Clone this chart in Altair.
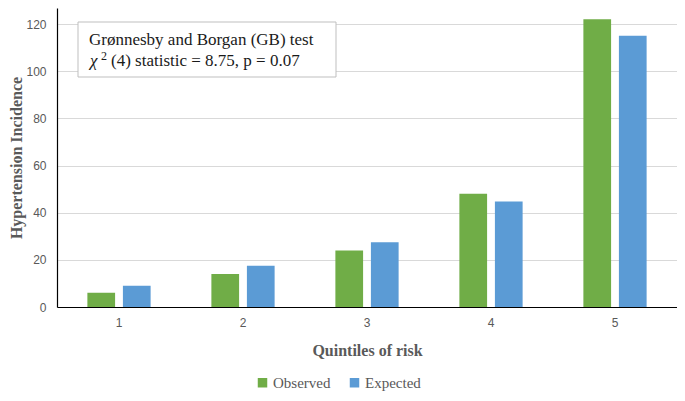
import altair as alt
import pandas as pd

quintiles = ["1", "2", "3", "4", "5"]
series = ["Observed", "Expected"]
observed = [6, 14, 24, 48, 122]
expected = [9, 17.5, 27.5, 44.7, 115]
colors = ["#70ad47", "#5b9bd5"]
y_ticks = [0, 20, 40, 60, 80, 100, 120]
box_line1 = "Grønnesby and Borgan (GB) test"
box_chi = "χ"
box_sup = "2"
box_rest = "(4) statistic = 8.75, p = 0.07"

rows = []
for q, o, e in zip(quintiles, observed, expected):
    rows.append({"q": q, "series": "Observed", "v": o})
    rows.append({"q": q, "series": "Expected", "v": e})
df = pd.DataFrame(rows)

SERIF = "Liberation Serif, Times New Roman, serif"
SANS = "Liberation Sans, Arial, sans-serif"
GRAY = "#595959"
INK = "#1a1a1a"

bars = alt.Chart(df).mark_bar().encode(
    x=alt.X("q:N", sort=quintiles,
            scale=alt.Scale(paddingInner=0.49, paddingOuter=0.245),
            axis=alt.Axis(title="Quintiles of risk", labelAngle=0, ticks=False,
                          domainColor="black", domainWidth=1.2,
                          labelFont=SANS, labelFontSize=12, labelColor=GRAY,
                          labelPadding=10, titleFont=SERIF, titleFontSize=16,
                          titleFontWeight="bold", titleColor=GRAY, titlePadding=14,
                          grid=False)),
    xOffset=alt.XOffset("series:N", sort=series,
                        scale=alt.Scale(paddingInner=0.22, paddingOuter=0)),
    y=alt.Y("v:Q", scale=alt.Scale(domain=[0, 126.8], nice=False, zero=True),
            axis=alt.Axis(values=y_ticks, title="Hypertension Incidence", ticks=False,
                          domainColor="black", domainWidth=1.2,
                          labelFont=SANS, labelFontSize=12, labelColor=GRAY,
                          labelPadding=11, titleFont=SERIF, titleFontSize=16,
                          titleFontWeight="bold", titleColor=GRAY,
                          titleX=-49, titleBaseline="top",
                          gridColor="#d9d9d9", gridWidth=1)),
    color=alt.Color("series:N", sort=series,
                    scale=alt.Scale(domain=series, range=colors),
                    legend=alt.Legend(title=None, orient="none", direction="horizontal",
                                      legendX=198, legendY=367, symbolType="square",
                                      symbolSize=90, symbolStrokeWidth=0,
                                      labelFont=SERIF, labelFontSize=15, labelColor=GRAY,
                                      columnPadding=16, labelOffset=3)),
)

one = pd.DataFrame({"a": [0]})
box = alt.Chart(one).mark_rect(fill="white", stroke="#bfbfbf", strokeWidth=1).encode(
    x=alt.value(21), x2=alt.value(279), y=alt.value(14), y2=alt.value(69)
)
t1 = alt.Chart(one).mark_text(text=box_line1, font=SERIF, fontSize=17, align="left",
                              baseline="alphabetic", color=INK).encode(
    x=alt.value(32), y=alt.value(37))
t2 = alt.Chart(one).mark_text(text=box_chi, font=SERIF, fontSize=17, fontStyle="italic",
                              align="left", baseline="alphabetic", color=INK).encode(
    x=alt.value(33), y=alt.value(58))
t3 = alt.Chart(one).mark_text(text=box_sup, font=SERIF, fontSize=12, align="left",
                              baseline="alphabetic", color=INK).encode(
    x=alt.value(44), y=alt.value(52))
t4 = alt.Chart(one).mark_text(text=box_rest, font=SERIF, fontSize=17, align="left",
                              baseline="alphabetic", color=INK).encode(
    x=alt.value(54), y=alt.value(58))

chart = alt.layer(bars, box, t1, t2, t3, t4).properties(
    width=620, height=299,
    autosize=alt.AutoSizeParams(type="none"),
    padding={"left": 49, "top": 0, "right": 0, "bottom": 86},
).configure_view(stroke=None)

chart.save("out.html", embed_options={"renderer": "svg", "actions": False})
